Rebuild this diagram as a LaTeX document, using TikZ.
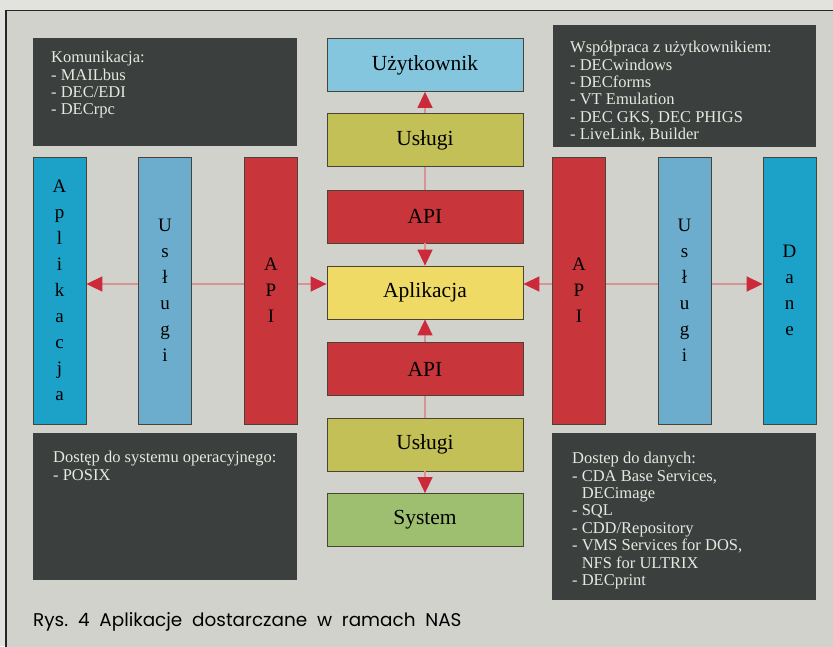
\documentclass[tikz,border=0pt]{standalone}
\usepackage{fontspec}
\setmainfont{Liberation Serif}
\newfontfamily\capfont{Poppins}
\usetikzlibrary{arrows.meta,backgrounds}
\definecolor{pagebg}{HTML}{E2E2DE}
\definecolor{framebg}{HTML}{D2D2CC}
\definecolor{cDark}{HTML}{3B3F3D}
\definecolor{cUser}{HTML}{84C6DE}
\definecolor{cOlive}{HTML}{C2C056}
\definecolor{cRed}{HTML}{C8363C}
\definecolor{cYellow}{HTML}{F0DA66}
\definecolor{cGreen}{HTML}{9EBE70}
\definecolor{cCyan}{HTML}{1CA2C8}
\definecolor{cBlue}{HTML}{6CACCC}
\definecolor{connc}{HTML}{D89494}
\definecolor{tipred}{HTML}{CC2A3A}
\definecolor{boxline}{HTML}{4A4436}
\definecolor{lighttext}{HTML}{E8E8E0}
\begin{document}
\begin{tikzpicture}[x=1pt,y=-1pt,
  cbox/.style={draw=boxline, line width=0.8pt, minimum width=196pt, minimum height=53pt, inner sep=0pt, font=\fontsize{21.5}{24}\selectfont},
  colbox/.style={draw=boxline, line width=0.8pt, minimum width=53pt, minimum height=267pt, inner sep=0pt, align=center, font=\fontsize{19}{26}\selectfont},
  dbox/.style={fill=cDark, draw=none, anchor=north west, inner sep=0pt},
  listtext/.style={anchor=north west, inner sep=0pt, align=left, text=lighttext, font=\fontsize{16.5}{17.4}\selectfont},
  link/.style={draw=connc, line width=1.5pt},
  tiptri/.tip={Triangle[length=16pt,width=15pt,color=tipred]},
]
\clip (0,0) rectangle (833,646);
% central column
\node[cbox, fill=cUser]   (user) at (425,65)    {Użytkownik};
\node[cbox, fill=cOlive]  (usl1) at (425,140)   {Usługi};
\node[cbox, fill=cRed]    (api1) at (425,216.5) {API};
\node[cbox, fill=cYellow] (capp) at (425,292.5) {Aplikacja};
\node[cbox, fill=cRed]    (api2) at (425,369)   {API};
\node[cbox, fill=cOlive]  (usl2) at (425,444.5) {Usługi};
\node[cbox, fill=cGreen]  (sys)  at (425,520)   {System};
% side columns
\node[colbox, fill=cCyan] (lapp) at (59.5,290.5)  {A\\p\\l\\i\\k\\a\\c\\j\\a};
\node[colbox, fill=cBlue] (lusl) at (165,290.5)   {U\\s\\ł\\u\\g\\i};
\node[colbox, fill=cRed]  (lapi) at (271,290.5)   {A\\P\\I};
\node[colbox, fill=cRed]  (rapi) at (579,290.5)   {A\\P\\I};
\node[colbox, fill=cBlue] (rusl) at (684.5,290.5) {U\\s\\ł\\u\\g\\i};
\node[colbox, fill=cCyan] (dane) at (789.5,290.5) {D\\a\\n\\e};
% dark boxes
\node[dbox, minimum width=264pt, minimum height=108pt] (tl) at (33,38) {};
\node[dbox, minimum width=263pt, minimum height=122pt] (tr) at (553,25) {};
\node[dbox, minimum width=264pt, minimum height=147pt] (bl) at (33,433) {};
\node[dbox, minimum width=264pt, minimum height=167pt] (br) at (552,433) {};
\node[listtext] (tltext) at (51,51) {Komunikacja:\\- MAILbus\\- DEC/EDI\\- DECrpc};
\node[listtext] (trtext) at (570,41) {Współpraca z użytkownikiem:\\- DECwindows\\- DECforms\\- VT Emulation\\- DEC GKS, DEC PHIGS\\- LiveLink, Builder};
\node[listtext] (bltext) at (53,451) {Dostęp do systemu operacyjnego:\\- POSIX};
\node[listtext] (brtext) at (572,452) {Dostep do danych:\\- CDA Base Services,\\\phantom{- }DECimage\\- SQL\\- CDD/Repository\\- VMS Services for DOS,\\\phantom{- }NFS for ULTRIX\\- DECprint};
% caption
\node[anchor=west, inner sep=0pt, font=\capfont\fontsize{18.4}{20}\selectfont] (cap) at (33,622) {Rys.~~4~~Aplikacje~~dostarczane~~w~~ramach~~NAS};
% vertical connectors
\draw[link, tiptri-] (user.south) -- (usl1.north);
\draw[link] (usl1.south) -- (api1.north);
\draw[link, -tiptri] (api1.south) -- (capp.north);
\draw[link, -tiptri] (api2.north) -- (capp.south);
\draw[link] (api2.south) -- (usl2.north);
\draw[link, -tiptri] (usl2.south) -- (sys.north);
\coordinate (hl) at (0,284);
\begin{pgfonlayer}{background}
  \fill[pagebg] (0,0) rectangle (833,646);
  \draw[fill=framebg, draw=black!85, line width=1.5pt] (6,10.5) rectangle (850,660);
  \draw[link, tiptri-tiptri] (lapp.east |- hl) -- (capp.west |- hl);
  \draw[link, tiptri-tiptri] (capp.east |- hl) -- (dane.west |- hl);
\end{pgfonlayer}
\end{tikzpicture}
\end{document}
